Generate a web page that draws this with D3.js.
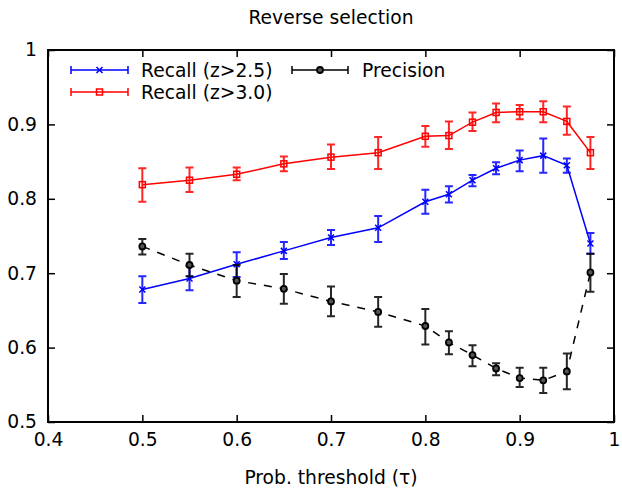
<!DOCTYPE html>
<html>
<head>
<meta charset="utf-8">
<script src="https://cdn.jsdelivr.net/npm/d3@7"></script>
<style>
  body { margin: 0; background: #fff; }
  text { font-family: "DejaVu Sans", sans-serif; fill: #000; }
</style>
</head>
<body>
<svg id="chart" width="622" height="491"></svg>
<script>
// thresholds (x) and the three series: value, lower and upper end of the error bar
const thresholds = [0.5, 0.55, 0.6, 0.65, 0.7, 0.75, 0.8, 0.825, 0.85, 0.875, 0.9, 0.925, 0.95, 0.975];

const recall25 = [0.678, 0.693, 0.712, 0.730, 0.748, 0.761, 0.796, 0.806, 0.825, 0.841, 0.852, 0.858, 0.845, 0.740];
const recall25Lo = [0.660, 0.677, 0.695, 0.719, 0.738, 0.742, 0.780, 0.795, 0.817, 0.833, 0.837, 0.835, 0.835, 0.726];
const recall25Hi = [0.696, 0.710, 0.728, 0.742, 0.758, 0.777, 0.812, 0.817, 0.832, 0.849, 0.865, 0.881, 0.854, 0.754];

const recall30 = [0.819, 0.825, 0.833, 0.847, 0.856, 0.862, 0.884, 0.885, 0.903, 0.916, 0.917, 0.917, 0.904, 0.862];
const recall30Lo = [0.796, 0.809, 0.825, 0.837, 0.840, 0.840, 0.870, 0.867, 0.891, 0.903, 0.907, 0.903, 0.886, 0.840];
const recall30Hi = [0.841, 0.842, 0.842, 0.857, 0.873, 0.883, 0.898, 0.904, 0.916, 0.928, 0.926, 0.931, 0.924, 0.883];

const precision = [0.736, 0.711, 0.690, 0.679, 0.662, 0.648, 0.629, 0.607, 0.590, 0.572, 0.559, 0.556, 0.568, 0.701];
const precisionLo = [0.725, 0.696, 0.668, 0.659, 0.642, 0.628, 0.604, 0.591, 0.575, 0.563, 0.547, 0.539, 0.544, 0.675];
const precisionHi = [0.746, 0.726, 0.711, 0.699, 0.682, 0.668, 0.652, 0.622, 0.603, 0.579, 0.573, 0.573, 0.592, 0.726];

const xTicks = [0.4, 0.5, 0.6, 0.7, 0.8, 0.9, 1];
const yTicks = [0.5, 0.6, 0.7, 0.8, 0.9, 1];

const svg = d3.select("#chart");
const plot = { left: 48, right: 614, top: 50, bottom: 422 };
const fontSize = "18.7px";

const x = d3.scaleLinear().domain([0.4, 1]).range([plot.left, plot.right]);
const y = d3.scaleLinear().domain([0.5, 1]).range([plot.bottom, plot.top]);
const fmt = d => d === 1 ? "1" : d3.format(".1f")(d);

// title
svg.append("text")
    .attr("x", (plot.left + plot.right) / 2)
    .attr("y", 24)
    .attr("text-anchor", "middle")
    .style("font-size", fontSize)
    .text("Reverse selection");

// axes, ticks pointing inward on all four sides
svg.append("g")
    .attr("transform", `translate(0,${plot.bottom})`)
    .call(d3.axisBottom(x).tickValues(xTicks).tickFormat(fmt).tickSizeInner(-7).tickSizeOuter(0).tickPadding(11))
    .call(g => g.select(".domain").remove())
    .selectAll("text").style("font-size", fontSize).attr("font-family", null);

svg.append("g")
    .attr("transform", `translate(${plot.left},0)`)
    .call(d3.axisLeft(y).tickValues(yTicks).tickFormat(fmt).tickSizeInner(-7).tickSizeOuter(0).tickPadding(11))
    .call(g => g.select(".domain").remove())
    .selectAll("text").style("font-size", fontSize).attr("font-family", null);

svg.append("g")
    .attr("transform", `translate(0,${plot.top})`)
    .call(d3.axisTop(x).tickValues(xTicks).tickFormat("").tickSizeInner(-7).tickSizeOuter(0))
    .call(g => g.select(".domain").remove());

svg.append("g")
    .attr("transform", `translate(${plot.right},0)`)
    .call(d3.axisRight(y).tickValues(yTicks).tickFormat("").tickSizeInner(-7).tickSizeOuter(0))
    .call(g => g.select(".domain").remove());

svg.selectAll(".tick line").attr("stroke", "#000").attr("stroke-width", 1.5);

svg.append("rect")
    .attr("x", plot.left).attr("y", plot.top)
    .attr("width", plot.right - plot.left).attr("height", plot.bottom - plot.top)
    .attr("fill", "none").attr("stroke", "#000").attr("stroke-width", 2);

// axis label
svg.append("text")
    .attr("x", (plot.left + plot.right) / 2)
    .attr("y", 484)
    .attr("text-anchor", "middle")
    .style("font-size", fontSize)
    .text("Prob. threshold (τ)");

// marker shapes
function drawMarker(g, kind, cx, cy, color) {
    if (kind === "cross") {
        g.append("path")
            .attr("d", `M${cx - 3},${cy - 3}L${cx + 3},${cy + 3}M${cx - 3},${cy + 3}L${cx + 3},${cy - 3}`)
            .attr("stroke", color).attr("stroke-width", 1.5);
    } else if (kind === "square") {
        g.append("rect")
            .attr("x", cx - 3).attr("y", cy - 3).attr("width", 6).attr("height", 6)
            .attr("fill", "none").attr("stroke", color).attr("stroke-width", 1.5);
    } else {
        g.append("circle")
            .attr("cx", cx).attr("cy", cy).attr("r", 3)
            .attr("fill", "#555").attr("stroke", color).attr("stroke-width", 1.8);
    }
}

const series = [
    { vals: recall25, lo: recall25Lo, hi: recall25Hi, color: "#0000ff", marker: "cross", dash: null },
    { vals: recall30, lo: recall30Lo, hi: recall30Hi, color: "#ff0000", marker: "square", dash: null },
    { vals: precision, lo: precisionLo, hi: precisionHi, color: "#000000", marker: "circle", dash: "8,8" }
];

const line = d3.line().x(d => x(d[0])).y(d => y(d[1]));

series.forEach(s => {
    const g = svg.append("g");
    g.append("path")
        .datum(thresholds.map((t, i) => [t, s.vals[i]]))
        .attr("d", line)
        .attr("fill", "none")
        .attr("stroke", s.color)
        .attr("stroke-width", 1.5)
        .attr("stroke-dasharray", s.dash);

    thresholds.forEach((t, i) => {
        const cx = x(t), y0 = y(s.lo[i]), y1 = y(s.hi[i]);
        g.append("path")
            .attr("d", `M${cx},${y0}V${y1}M${cx - 4},${y0}H${cx + 4}M${cx - 4},${y1}H${cx + 4}`)
            .attr("fill", "none")
            .attr("stroke", s.color)
            .attr("stroke-opacity", 0.85)
            .attr("stroke-width", 2);
        drawMarker(g, s.marker, cx, y(s.vals[i]), s.color);
    });
});

// legend
const legendItems = [
    { label: "Recall (z>2.5)", color: "#0000ff", marker: "cross", x0: 71, x1: 128, tx: 141, ly: 70 },
    { label: "Recall (z>3.0)", color: "#ff0000", marker: "square", x0: 71, x1: 128, tx: 141, ly: 92 },
    { label: "Precision", color: "#000000", marker: "circle", x0: 292, x1: 348, tx: 362, ly: 70 }
];

legendItems.forEach(d => {
    const g = svg.append("g");
    g.append("path")
        .attr("d", `M${d.x0},${d.ly}H${d.x1}M${d.x0},${d.ly - 4}V${d.ly + 4}M${d.x1},${d.ly - 4}V${d.ly + 4}`)
        .attr("fill", "none").attr("stroke", d.color).attr("stroke-width", 1.5);
    drawMarker(g, d.marker, (d.x0 + d.x1) / 2, d.ly, d.color);
    g.append("text")
        .attr("x", d.tx)
        .attr("y", d.ly + 6.5)
        .style("font-size", fontSize)
        .text(d.label);
});
</script>
</body>
</html>
